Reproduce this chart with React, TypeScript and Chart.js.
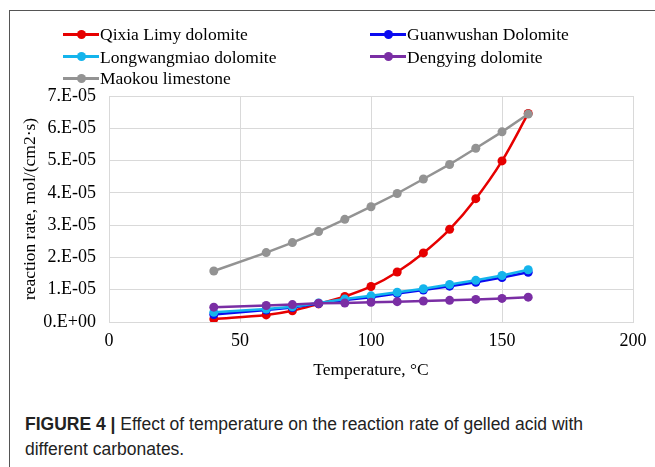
import React, { useEffect, useRef } from 'react';
import { Chart, registerables } from 'chart.js';

Chart.register(...registerables);

// Temperature (°C)
const temperatures = [40, 60, 70, 80, 90, 100, 110, 120, 130, 140, 150, 160];

// Reaction rate, mol/(cm2·s)
const qixiaLimyDolomite = [0.09e-5, 0.22e-5, 0.35e-5, 0.56e-5, 0.79e-5, 1.1e-5, 1.55e-5, 2.14e-5, 2.87e-5, 3.82e-5, 4.99e-5, 6.46e-5];
const guanwushanDolomite = [0.23e-5, 0.37e-5, 0.45e-5, 0.57e-5, 0.68e-5, 0.77e-5, 0.88e-5, 0.99e-5, 1.11e-5, 1.23e-5, 1.38e-5, 1.54e-5];
const longwangmiaoDolomite = [0.3e-5, 0.4e-5, 0.47e-5, 0.59e-5, 0.71e-5, 0.81e-5, 0.92e-5, 1.03e-5, 1.16e-5, 1.29e-5, 1.44e-5, 1.62e-5];
const dengyingDolomite = [0.46e-5, 0.51e-5, 0.54e-5, 0.58e-5, 0.59e-5, 0.61e-5, 0.63e-5, 0.65e-5, 0.67e-5, 0.7e-5, 0.73e-5, 0.77e-5];
const maokouLimestone = [1.58e-5, 2.15e-5, 2.46e-5, 2.8e-5, 3.18e-5, 3.57e-5, 3.98e-5, 4.43e-5, 4.88e-5, 5.38e-5, 5.89e-5, 6.44e-5];

const seriesNames = ['Qixia Limy dolomite', 'Guanwushan Dolomite', 'Longwangmiao dolomite', 'Dengying dolomite', 'Maokou limestone'];
const seriesValues = [qixiaLimyDolomite, guanwushanDolomite, longwangmiaoDolomite, dengyingDolomite, maokouLimestone];
const seriesColors = ['#e60000', '#0a0af0', '#14b4ec', '#7a2ea4', '#939393'];
const seriesSmooth = [true, false, false, false, false];

const yTickLabels = ['0.E+00', '1.E-05', '2.E-05', '3.E-05', '4.E-05', '5.E-05', '6.E-05', '7.E-05'];
const xTickLabels = ['0', '50', '100', '150', '200'];

const xTitle = 'Temperature, °C';
const yTitle = 'reaction rate, mol/(cm2·s)';

const SERIF = '"Liberation Serif", "Times New Roman", serif';

// legend layout: [left of line, row center]
const legendSlots = [
  [63, 34],
  [370, 34],
  [63, 56.5],
  [370, 56.5],
  [63, 78],
];

export default function App() {
  const canvasRef = useRef<HTMLCanvasElement | null>(null);

  useEffect(() => {
    const canvas = canvasRef.current;
    if (!canvas) return;
    const n = seriesNames.length;
    const chart = new Chart(canvas, {
      type: 'line',
      data: {
        datasets: seriesNames.map((name, i) => ({
          label: name,
          data: temperatures.map((t, j) => ({ x: t, y: seriesValues[i][j] })),
          borderColor: seriesColors[i],
          backgroundColor: seriesColors[i],
          pointBackgroundColor: seriesColors[i],
          pointBorderColor: seriesColors[i],
          pointRadius: 4.5,
          pointBorderWidth: 0,
          borderWidth: 2.5,
          tension: seriesSmooth[i] ? 0.35 : 0,
          fill: false,
          order: n - i,
        })),
      },
      options: {
        responsive: false,
        animation: false,
        devicePixelRatio: 1,
        layout: { padding: { top: 96, right: 22, left: 0, bottom: 0 } },
        plugins: {
          legend: { display: false },
          tooltip: { enabled: false },
          title: { display: false },
        },
        scales: {
          x: {
            type: 'linear',
            min: 0,
            max: 200,
            ticks: {
              stepSize: 50,
              padding: 8,
              color: '#000',
              font: { family: SERIF, size: 18 },
              callback: (_v: any, idx: number) => xTickLabels[idx],
            },
            grid: { color: '#d9d9d9', lineWidth: 1, drawTicks: false },
            border: { color: '#d9d9d9', width: 1 },
            title: {
              display: true,
              text: xTitle,
              color: '#000',
              font: { family: SERIF, size: 17.5 },
              padding: { top: 0, bottom: 19 },
            },
            afterFit: (scale: any) => {
              scale.height = 78;
            },
          },
          y: {
            type: 'linear',
            min: 0,
            max: 7e-5,
            ticks: {
              stepSize: 1e-5,
              padding: 13,
              color: '#000',
              font: { family: SERIF, size: 18 },
              callback: (_v: any, idx: number) => yTickLabels[idx],
            },
            grid: { color: '#d9d9d9', lineWidth: 1, drawTicks: false },
            border: { color: '#d9d9d9', width: 1 },
            title: {
              display: true,
              text: yTitle,
              color: '#000',
              font: { family: SERIF, size: 17.5 },
              padding: { top: 19.5, bottom: 0 },
            },
            afterFit: (scale: any) => {
              scale.width = 109;
            },
          },
        },
      },
    });
    return () => chart.destroy();
  }, []);

  return (
    <div style={{ position: 'absolute', left: 0, top: 0, width: 655, height: 467, background: '#fff', overflow: 'hidden' }}>
      <div
        style={{
          position: 'absolute',
          left: 9,
          top: 10,
          width: 660,
          height: 470,
          borderLeft: '1.5px solid #555',
          borderTop: '1.5px solid #555',
        }}
      />
      <canvas ref={canvasRef} width={655} height={400} style={{ position: 'absolute', left: 0, top: 0, width: 655, height: 400 }} />
      {seriesNames.map((name, i) => (
        <div
          key={name}
          style={{
            position: 'absolute',
            left: legendSlots[i][0],
            top: legendSlots[i][1] - 11,
            height: 22,
            display: 'flex',
            alignItems: 'center',
            whiteSpace: 'nowrap',
            fontFamily: SERIF,
            fontSize: 17.5,
            color: '#000',
          }}
        >
          <div style={{ position: 'relative', width: 36, height: 3, background: seriesColors[i], flex: 'none' }}>
            <div
              style={{
                position: 'absolute',
                left: 13.5,
                top: -3,
                width: 9,
                height: 9,
                borderRadius: '50%',
                background: seriesColors[i],
              }}
            />
          </div>
          <span style={{ marginLeft: 1, lineHeight: '22px' }}>{name}</span>
        </div>
      ))}
      <div
        style={{
          position: 'absolute',
          left: 25,
          top: 412,
          fontFamily: '"Liberation Sans", Arial, sans-serif',
          fontSize: 17.5,
          lineHeight: '25px',
          color: '#222',
          whiteSpace: 'nowrap',
        }}
      >
        <span style={{ fontWeight: 'bold' }}>FIGURE 4 |</span> Effect of temperature on the reaction rate of gelled acid with
        <br />
        different carbonates.
      </div>
    </div>
  );
}
